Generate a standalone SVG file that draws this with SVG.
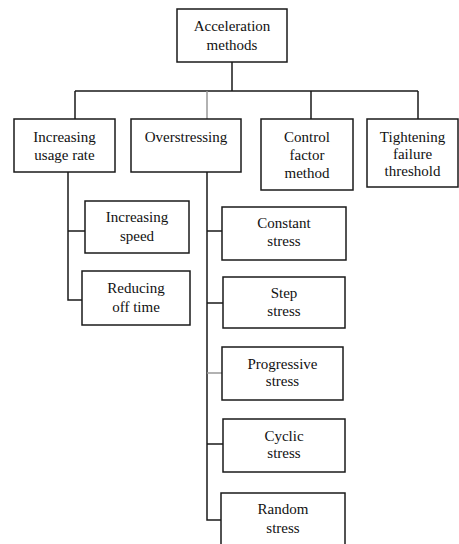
<svg xmlns="http://www.w3.org/2000/svg" width="459" height="544" viewBox="0 0 459 544">
<style>
.box{fill:#fff;stroke:#1a1a1a;stroke-width:1.5}
.ln{fill:none;stroke:#1a1a1a;stroke-width:1.5}
.gr{fill:none;stroke:#999;stroke-width:1.5}
.t{font-family:'Liberation Serif','Times New Roman','DejaVu Serif',serif;font-size:15px;fill:#111;text-anchor:middle}
</style>
<rect width="459" height="544" fill="#fff"/>
<g id="connectors">
<path class="ln" d="M232 62V91M75 91H418M75 91V119M311 91V119M418 91V119"/>
<path class="gr" d="M207 91V119"/>
<path class="ln" d="M68 172V300H82M68 231H85"/>
<path class="ln" d="M207 172V520H221M207 231H222M207 303H223M207 444H223"/>
<path class="gr" d="M207 373H222"/>
</g>
<g id="n-accel"><rect class="box" x="177" y="9" width="110" height="53"/><text class="t" x="232" y="31">Acceleration</text><text class="t" x="232" y="50">methods</text></g>
<g id="n-usage"><rect class="box" x="14" y="119" width="101" height="53"/><text class="t" x="64.5" y="142">Increasing</text><text class="t" x="64.5" y="160">usage rate</text></g>
<g id="n-over"><rect class="box" x="131" y="119" width="110" height="53"/><text class="t" x="186" y="142">Overstressing</text></g>
<g id="n-control"><rect class="box" x="261" y="119" width="92" height="71"/><text class="t" x="307" y="142">Control</text><text class="t" x="307" y="160">factor</text><text class="t" x="307" y="178">method</text></g>
<g id="n-tight"><rect class="box" x="367" y="119" width="91" height="68"/><text class="t" x="412.5" y="142">Tightening</text><text class="t" x="412.5" y="159">failure</text><text class="t" x="412.5" y="176">threshold</text></g>
<g id="n-speed"><rect class="box" x="85" y="201" width="104" height="52"/><text class="t" x="137" y="222">Increasing</text><text class="t" x="137" y="241">speed</text></g>
<g id="n-offtime"><rect class="box" x="82" y="271" width="108" height="54"/><text class="t" x="136" y="293">Reducing</text><text class="t" x="136" y="312">off time</text></g>
<g id="n-constant"><rect class="box" x="222" y="207" width="124" height="53"/><text class="t" x="284" y="228">Constant</text><text class="t" x="284" y="246">stress</text></g>
<g id="n-step"><rect class="box" x="223" y="277" width="122" height="51"/><text class="t" x="284" y="298">Step</text><text class="t" x="284" y="316">stress</text></g>
<g id="n-progressive"><rect class="box" x="222" y="347" width="121" height="53"/><text class="t" x="282.5" y="369">Progressive</text><text class="t" x="282.5" y="386">stress</text></g>
<g id="n-cyclic"><rect class="box" x="223" y="419" width="122" height="53"/><text class="t" x="284" y="441">Cyclic</text><text class="t" x="284" y="458">stress</text></g>
<g id="n-random"><rect class="box" x="221" y="493" width="124" height="60"/><text class="t" x="283" y="514">Random</text><text class="t" x="283" y="533">stress</text></g>
</svg>
